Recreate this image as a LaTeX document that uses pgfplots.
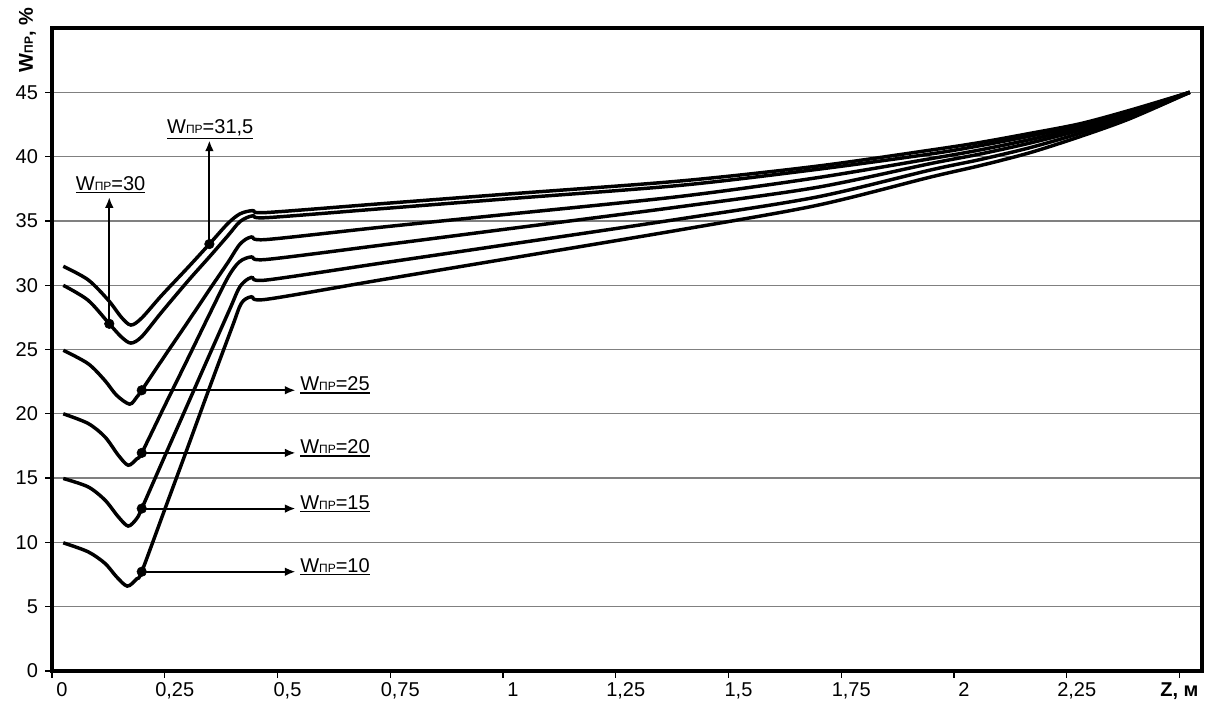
\documentclass[border=0pt]{standalone}
\usepackage{fontspec}
\setmainfont{Liberation Sans}
\usepackage{pgfplots}
\pgfplotsset{compat=1.18}
\usetikzlibrary{arrows.meta}
\newcommand{\pr}{{\fontsize{9}{10}\selectfont ПР}}
\newsavebox\ulbox
\newcommand{\ul}[1]{\sbox\ulbox{#1}\vtop{\copy\ulbox\kern0.9pt\hrule height 1.2pt width \wd\ulbox}}
\newcommand{\lab}{\fontsize{15}{18}\selectfont}
\begin{document}
\begin{tikzpicture}
\useasboundingbox (-39pt,-30pt) rectangle (867pt,503.25pt);
\begin{axis}[
  at={(0pt,0pt)}, anchor=south west,
  scale only axis, width=862.5pt, height=482.25pt,
  xmin=0, xmax=2.55, ymin=0, ymax=50,
  xtick={0,0.25,0.5,0.75,1,1.25,1.5,1.75,2,2.25},
  xticklabels={0,{0,25},{0,5},{0,75},1,{1,25},{1,5},{1,75},2,{2,25}},
  extra x ticks={2.5}, extra x tick labels={\textbf{Z, м}},
  extra x tick style={xticklabel style={xshift=-7.5pt}},
  ytick={0,5,10,15,20,25,30,35,40,45},
  yticklabels={0,5,10,15,20,25,30,35,40,45},
  ymajorgrids, major grid style={black!50, line width=1pt},
  axis line style={line width=3pt},
  tick style={black, line width=1pt},
  tick align=outside, major tick length=5pt,
  xtick pos=bottom, ytick pos=left,
  xticklabel style={xshift=7.5pt},
  yticklabel style={xshift=-2pt},
  tick label style={font=\lab},
  clip=false,
]
% W = 31.5
\addplot[black, line width=2.6pt, smooth, tension=0.5] coordinates {
(0.025,31.47) (0.08,30.42) (0.125,28.83) (0.154,27.5) (0.175,26.9) (0.199,27.45)
(0.243,29.2) (0.302,31.4) (0.349,33.2) (0.39,34.8) (0.417,35.55) (0.445,35.8)
(0.475,35.65) (0.727,36.33) (1.0,37.06) (1.392,38.1) (1.695,39.25) (1.947,40.5)
(2.058,41.1) (2.168,41.8) (2.279,42.55) (2.39,43.6) (2.523,45)};
% W = 30
\addplot[black, line width=2.6pt, smooth, tension=0.5] coordinates {
(0.025,29.99) (0.08,28.83) (0.127,27.0) (0.154,25.97) (0.175,25.5) (0.199,26.0)
(0.243,27.9) (0.302,30.35) (0.349,32.2) (0.39,33.85) (0.417,34.95) (0.445,35.4)
(0.475,35.25) (0.727,35.94) (1.0,36.69) (1.392,37.76) (1.695,39.0) (1.947,40.2)
(2.058,40.85) (2.168,41.59) (2.279,42.41) (2.39,43.5) (2.523,45)};
% W = 25
\addplot[black, line width=2.6pt, smooth, tension=0.5] coordinates {
(0.025,24.94) (0.08,23.9) (0.117,22.6) (0.143,21.45) (0.172,20.75) (0.188,21.3)
(0.199,21.83) (0.25,24.5) (0.30,27.08) (0.35,29.7) (0.39,31.76) (0.417,33.2)
(0.442,33.75) (0.475,33.55) (0.727,34.5) (1.0,35.48) (1.392,36.9) (1.695,38.35)
(1.947,39.83) (2.058,40.52) (2.168,41.32) (2.279,42.23) (2.39,43.39) (2.523,45)};
% W = 20
\addplot[black, line width=2.6pt, smooth, tension=0.5] coordinates {
(0.025,20.0) (0.08,19.25) (0.1175,18.2) (0.147,16.78) (0.169,16.0) (0.188,16.5)
(0.199,16.96) (0.25,20.63) (0.30,24.2) (0.35,27.8) (0.39,30.6) (0.415,31.8)
(0.442,32.2) (0.475,32.0) (0.727,33.1) (1.0,34.33) (1.392,36.1) (1.695,37.6)
(1.947,39.45) (2.058,40.2) (2.168,41.05) (2.279,42.05) (2.39,43.28) (2.523,45)};
% W = 15
\addplot[black, line width=2.6pt, smooth, tension=0.5] coordinates {
(0.025,14.97) (0.08,14.32) (0.1175,13.29) (0.147,11.99) (0.169,11.27) (0.188,11.86)
(0.199,12.63) (0.25,16.7) (0.30,20.67) (0.35,24.65) (0.395,28.2) (0.417,29.9)
(0.442,30.6) (0.475,30.4) (0.727,31.7) (1.0,33.11) (1.392,35.15) (1.695,36.85)
(1.947,38.95) (2.058,39.77) (2.168,40.69) (2.279,41.81) (2.39,43.12) (2.523,45)};
% W = 10
\addplot[black, line width=2.6pt, smooth, tension=0.5] coordinates {
(0.025,9.97) (0.08,9.27) (0.1175,8.37) (0.143,7.33) (0.167,6.6) (0.188,7.17)
(0.199,7.72) (0.25,12.56) (0.30,17.3) (0.35,22.1) (0.40,26.8) (0.42,28.6)
(0.442,29.1) (0.475,28.9) (0.727,30.4) (1.0,32.0) (1.392,34.3) (1.695,36.2)
(1.947,38.4) (2.058,39.3) (2.168,40.3) (2.279,41.55) (2.39,42.95) (2.523,45)};
% dots
\addplot[only marks, mark=*, mark size=3.6pt, black] coordinates {
(0.127,27.0) (0.349,33.2) (0.199,21.83) (0.199,16.96) (0.199,12.63) (0.199,7.72)};
% arrows
\draw[line width=1.5pt, -{Latex[length=8pt,width=6.5pt]}] (axis cs:0.127,27.0) -- (axis cs:0.127,36.85);
\draw[line width=1.5pt, -{Latex[length=8pt,width=6.5pt]}] (axis cs:0.349,33.2) -- (axis cs:0.349,41.26);
\draw[line width=1.5pt, -{Latex[length=8pt,width=6.5pt]}] (axis cs:0.199,21.83) -- (axis cs:0.54,21.83);
\draw[line width=1.5pt, -{Latex[length=8pt,width=6.5pt]}] (axis cs:0.199,16.96) -- (axis cs:0.54,16.96);
\draw[line width=1.5pt, -{Latex[length=8pt,width=6.5pt]}] (axis cs:0.199,12.63) -- (axis cs:0.54,12.63);
\draw[line width=1.5pt, -{Latex[length=8pt,width=6.5pt]}] (axis cs:0.199,7.72) -- (axis cs:0.54,7.72);
% labels
\node[anchor=base, font=\lab, inner sep=0pt] at (axis cs:0.130,37.37) {\ul{W\pr=30}};
\node[anchor=base, font=\lab, inner sep=0pt] at (axis cs:0.351,41.76) {\ul{W\pr=31,5}};
\node[anchor=base west, font=\lab, inner sep=0pt] at (axis cs:0.55,21.78) {\ul{W\pr=25}};
\node[anchor=base west, font=\lab, inner sep=0pt] at (axis cs:0.55,16.91) {\ul{W\pr=20}};
\node[anchor=base west, font=\lab, inner sep=0pt] at (axis cs:0.55,12.58) {\ul{W\pr=15}};
\node[anchor=base west, font=\lab, inner sep=0pt] at (axis cs:0.55,7.67) {\ul{W\pr=10}};
\node[rotate=90, anchor=base, font=\lab\bfseries, inner sep=0pt] at ([xshift=-14.25pt,yshift=-9pt]rel axis cs:0,1) {W\pr, \%};
\end{axis}
\end{tikzpicture}
\end{document}
